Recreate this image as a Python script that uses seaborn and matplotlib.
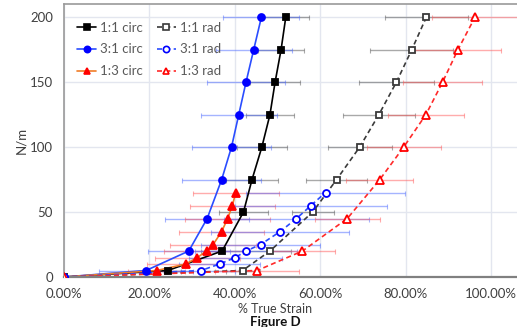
# -*- coding: utf-8 -*-
import matplotlib
matplotlib.use('Agg')
import matplotlib.pyplot as plt
from matplotlib.lines import Line2D
from matplotlib.ticker import FuncFormatter, MultipleLocator
import seaborn as sns

# 1:1 circ / rad
circ11_y = [0, 5, 20, 50, 75, 100, 125, 150, 175, 200]
circ11_x = [0, 0.243, 0.37, 0.42, 0.44, 0.463, 0.482, 0.494, 0.508, 0.519]
circ11_err = [0, 0.03, 0.05, 0.058, 0.061, 0.058, 0.056, 0.058, 0.053, 0.055]

rad11_y = [0, 5, 20, 50, 75, 100, 125, 150, 175, 200]
rad11_x = [0, 0.418, 0.482, 0.582, 0.638, 0.692, 0.737, 0.778, 0.814, 0.848]
rad11_err = [0, 0.04, 0.05, 0.049, 0.071, 0.075, 0.084, 0.088, 0.097, 0.097]

# 3:1 circ / rad
circ31_y = [0, 5, 20, 45, 75, 100, 125, 150, 175, 200]
circ31_x = [0, 0.192, 0.292, 0.335, 0.369, 0.392, 0.409, 0.426, 0.444, 0.462]
circ31_err = [0, 0.11, 0.096, 0.099, 0.092, 0.093, 0.089, 0.091, 0.089, 0.089]

rad31_y = [0, 5, 10, 15, 20, 25, 35, 45, 55, 65]
rad31_x = [0, 0.321, 0.364, 0.401, 0.426, 0.46, 0.506, 0.544, 0.578, 0.612]
rad31_err = [0, 0.08, 0.095, 0.109, 0.12, 0.139, 0.161, 0.17, 0.178, 0.186]

# 1:3 circ / rad
circ13_y = [0, 5, 10, 15, 20, 25, 35, 45, 55, 65]
circ13_x = [0, 0.217, 0.285, 0.312, 0.334, 0.349, 0.369, 0.383, 0.394, 0.402]
circ13_err = [0, 0.067, 0.09, 0.1, 0.1, 0.1, 0.1, 0.1, 0.1, 0.1]

rad13_y = [0, 5, 20, 45, 75, 100, 125, 150, 175, 200]
rad13_x = [0, 0.452, 0.558, 0.663, 0.739, 0.795, 0.847, 0.886, 0.922, 0.962]
rad13_err = [0, 0.098, 0.075, 0.076, 0.078, 0.086, 0.088, 0.093, 0.1, 0.1]

sns.set_theme(style='white')
plt.rcParams['font.family'] = ['Lato', 'DejaVu Sans']

fig = plt.figure(figsize=(5.17, 3.27), dpi=100)
ax = fig.add_axes([64 / 517, 1 - 277 / 327, 1 - 64 / 517, 273 / 327])

series = [
    # label, x, y, err, line colour, marker colour, marker, filled, dashed, errcolour
    ('1:1 circ', circ11_x, circ11_y, circ11_err, '#000000', '#000000', 's', True, False, '#555555'),
    ('3:1 circ', circ31_x, circ31_y, circ31_err, '#2a4dff', '#0000ff', 'o', True, False, '#4d6bff'),
    ('1:3 circ', circ13_x, circ13_y, circ13_err, '#f07d28', '#ff0000', '^', True, False, '#ff5a5a'),
    ('1:1 rad', rad11_x, rad11_y, rad11_err, '#3a3a3a', '#3a3a3a', 's', False, True, '#555555'),
    ('3:1 rad', rad31_x, rad31_y, rad31_err, '#2a4dff', '#0000ff', 'o', False, True, '#4d6bff'),
    ('1:3 rad', rad13_x, rad13_y, rad13_err, '#ff2a2a', '#ff0000', '^', False, True, '#ff5a5a'),
]

# error bars first, underneath
for lab, xs, ys, err, lc, mc, mk, filled, dashed, ec in series:
    ax.errorbar(xs, ys, xerr=err, fmt='none', ecolor=ec, elinewidth=1.0,
                capsize=1.8, capthick=0.8, alpha=0.5, zorder=1)

handles = []
for lab, xs, ys, err, lc, mc, mk, filled, dashed, ec in series:
    ls = (0, (3, 2)) if dashed else '-'
    fc = mc if filled else 'white'
    sns.lineplot(x=xs, y=ys, ax=ax, sort=False, estimator=None, color=lc,
                 linewidth=1.2, linestyle=ls, zorder=2)
    ax.plot(xs, ys, linestyle='none', marker=mk, markersize=5 if mk != '^' else 5.5,
            markerfacecolor=fc, markeredgecolor=mc, markeredgewidth=1.3, zorder=3)
    handles.append(Line2D([0], [0], color=lc, linestyle=ls, linewidth=1.2, marker=mk,
                          markersize=4.5, markerfacecolor=fc, markeredgecolor=mc,
                          markeredgewidth=1.2, label=lab))

ax.set_xlim(0, 1.06)
ax.set_ylim(0, 210)
ax.xaxis.set_major_locator(MultipleLocator(0.2))
ax.yaxis.set_major_locator(MultipleLocator(50))
ax.xaxis.set_major_formatter(FuncFormatter(lambda v, p: '{:.2f}%'.format(v * 100)))
ax.grid(True, color='#e3e6ef', linewidth=1.0)
ax.set_axisbelow(True)
for s in ['left', 'top']:
    ax.spines[s].set_color('#9a9a9a')
    ax.spines[s].set_linewidth(1.2)
ax.spines['bottom'].set_color('#808080')
ax.spines['bottom'].set_linewidth(1.6)
ax.spines['right'].set_visible(False)
ax.tick_params(axis='both', labelsize=9.5, labelcolor='#404040', length=0)
ax.tick_params(axis='x', pad=8)
ax.tick_params(axis='y', pad=8)
ax.set_xlabel('')
ax.set_ylabel('N/m', fontsize=9.5, color='#404040', labelpad=2)

fig.text(275 / 517, 1 - 309 / 327, '% True Strain', ha='center', va='center',
         fontsize=9, color='#404040')
fig.text(275 / 517, 1 - 321.5 / 327, 'Figure D', ha='center', va='center',
         fontsize=9.5, fontweight='bold', color='#111111')

leg = ax.legend(handles=handles, loc='upper left', ncol=2, frameon=False,
                fontsize=9.5, handlelength=1.4, handletextpad=0.3,
                columnspacing=1.1, labelspacing=0.75, borderaxespad=0,
                bbox_to_anchor=(0.018, 0.955))
for t in leg.get_texts():
    t.set_color('#595959')

plt.savefig('out.png', dpi=100)
